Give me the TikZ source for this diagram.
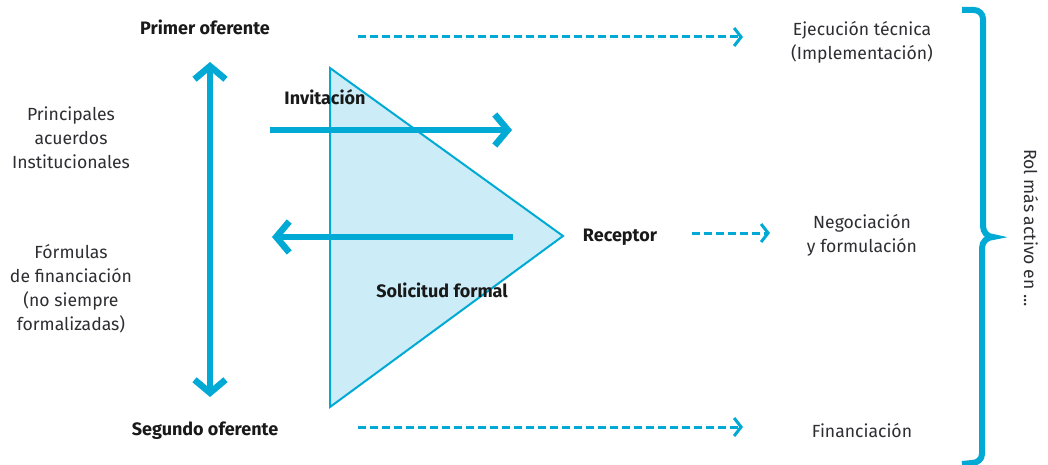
\documentclass[tikz,border=0pt]{standalone}
\usepackage{fontspec}
\setmainfont{Fira Sans}
\usetikzlibrary{arrows.meta}
\definecolor{cy}{RGB}{0,170,212}
\definecolor{cyfill}{RGB}{204,237,247}
\definecolor{txt}{RGB}{45,45,50}
\begin{document}
\begin{tikzpicture}[x=1pt,y=-1pt,
  lbl/.style={font=\fontsize{17.6}{24}\selectfont, text=txt, align=center, inner sep=0pt},
  blbl/.style={font=\fontsize{18}{24}\selectfont\bfseries, text=black!90, align=center, inner sep=0pt},
  bigarrow/.style={draw=cy, line width=6.5pt, -{Straight Barb[length=13pt,width=31pt]}},
  bigdarrow/.style={draw=cy, line width=6.5pt, {Straight Barb[length=13pt,width=31pt]}-{Straight Barb[length=13pt,width=31pt]}},
  dasharrow/.style={draw=cy, line width=3pt, dash pattern=on 8pt off 4pt, -{Straight Barb[length=7pt,width=18pt]}},
  tri/.style={draw=cy, fill=cyfill, line width=2pt, line join=miter},
  bracestyle/.style={draw=cy, line width=6pt, line cap=butt}
]
\useasboundingbox (0,0) rectangle (1048,465);
% triangle
\coordinate (t1) at (330,68);
\coordinate (t2) at (563,236);
\coordinate (t3) at (330,407);
\path[tri] (t1) -- (t2) -- (t3) -- cycle;
% labels
\node[blbl] (po) at (205,27) {Primer oferente};
\node[blbl] (so) at (205,431) {Segundo oferente};
\node[blbl] (inv) at (325,97) {Invitación};
\node[blbl] (sol) at (442,290) {Solicitud formal};
\node[blbl] (rec) at (620,237) {Receptor};
\node[lbl] (pai) at (71,138) {Principales\\acuerdos\\Institucionales};
\node[lbl] (fdf) at (71,289) {Fórmulas\\de financiación\\(no siempre\\formalizadas)};
\node[lbl] (eje) at (862,42) {Ejecución técnica\\(Implementación)};
\node[lbl] (neg) at (862,235) {Negociación\\y formulación};
\node[lbl] (fin) at (862,431) {Financiación};
\node[lbl, rotate=-90] (rol) at (1031,228) {Rol más activo en ...};
% thick arrows
\coordinate (va) at (210,62);
\coordinate (vb) at (210,397);
\draw[bigdarrow] (va) -- (vb);
\coordinate (r1) at (270,130);
\coordinate (r2) at (512,130);
\draw[bigarrow] (r1) -- (r2);
\coordinate (l1) at (513,237);
\coordinate (l2) at (272,237);
\draw[bigarrow] (l1) -- (l2);
% dashed arrows
\coordinate (d1a) at (358,37);
\coordinate (d1b) at (743,37);
\draw[dasharrow] (d1a) -- (d1b);
\coordinate (d2a) at (692,233);
\coordinate (d2b) at (770,233);
\draw[dasharrow] (d2a) -- (d2b);
\coordinate (d3a) at (358,427);
\coordinate (d3b) at (743,427);
\draw[dasharrow] (d3a) -- (d3b);
% brace
\coordinate (b0) at (962,10);
\coordinate (bt) at (993,237);
\coordinate (b9) at (962,464);
\draw[bracestyle] (b0) -- (974,10) to[out=0,in=90] (983,19) -- (983,226) to[out=-90,in=180] (bt)
   to[out=180,in=90] (982,248) -- (982,454) to[out=-90,in=0] (972,463) -- (b9);
\end{tikzpicture}
\end{document}
